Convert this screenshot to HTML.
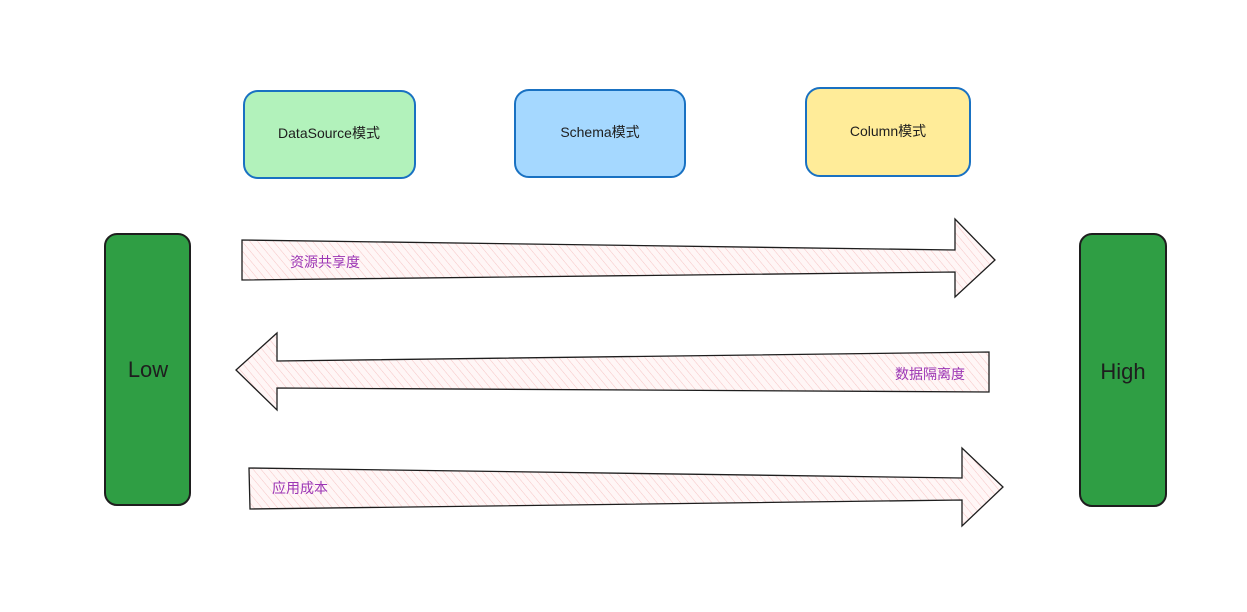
<!DOCTYPE html>
<html><head><meta charset="utf-8"><style>
html,body{margin:0;padding:0;background:#fff;}
svg text{font-family:"Liberation Sans","Noto Sans CJK SC",sans-serif;}
</style></head><body>
<svg width="1247" height="607" viewBox="0 0 1247 607" xmlns="http://www.w3.org/2000/svg">
<defs>
<pattern id="h" width="6" height="6" patternUnits="userSpaceOnUse" patternTransform="rotate(-40)">
<rect width="6" height="6" fill="#fff6f6"/>
<line x1="0" y1="0" x2="0" y2="6" stroke="#f6c4c4" stroke-width="1"/>
</pattern>
</defs>
<rect width="1247" height="607" fill="#fff"/>
<rect x="244" y="91" width="171" height="87" rx="14" fill="#b2f2bb" stroke="#1971c2" stroke-width="2"/>
<text x="329" y="138" font-size="14" text-anchor="middle" fill="#1e1e1e">DataSource模式</text>
<rect x="515" y="90" width="170" height="87" rx="14" fill="#a5d8ff" stroke="#1971c2" stroke-width="2"/>
<text x="600" y="137" font-size="14" text-anchor="middle" fill="#1e1e1e">Schema模式</text>
<rect x="806" y="88" width="164" height="88" rx="14" fill="#ffec99" stroke="#1971c2" stroke-width="2"/>
<text x="888" y="136" font-size="14" text-anchor="middle" fill="#1e1e1e">Column模式</text>
<rect x="105" y="234" width="85" height="271" rx="12" fill="#2f9e44" stroke="#1e1e1e" stroke-width="2"/>
<text x="148" y="377" font-size="22" text-anchor="middle" fill="#1e1e1e">Low</text>
<rect x="1080" y="234" width="86" height="272" rx="12" fill="#2f9e44" stroke="#1e1e1e" stroke-width="2"/>
<text x="1123" y="379" font-size="22" text-anchor="middle" fill="#1e1e1e">High</text>
<polygon points="242,240 955,250 955,219 995,260 955,297 955,272 242,280" fill="url(#h)" stroke="#1e1e1e" stroke-width="1.3"/>
<text x="290" y="267" font-size="14" fill="#9c36b5">资源共享度</text>
<polygon points="236,370 277,333 277,361 989,352 989,392 277,388 277,410" fill="url(#h)" stroke="#1e1e1e" stroke-width="1.3"/>
<text x="895" y="379" font-size="14" fill="#9c36b5">数据隔离度</text>
<polygon points="249,468 962,478 962,448 1003,487 962,526 962,500 250,509" fill="url(#h)" stroke="#1e1e1e" stroke-width="1.3"/>
<text x="272" y="493" font-size="14" fill="#9c36b5">应用成本</text>
</svg>
</body></html>
